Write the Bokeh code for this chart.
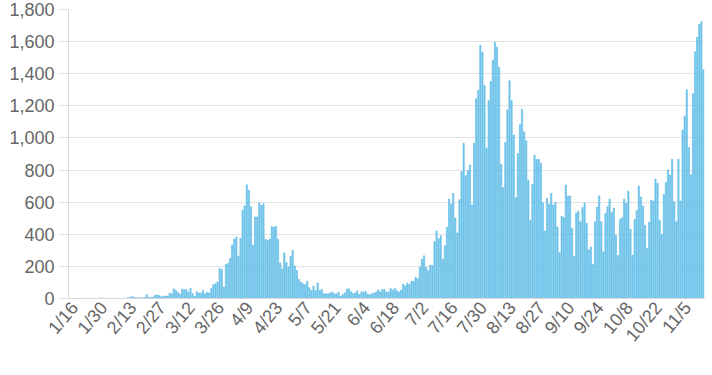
import math
import pandas as pd
from bokeh.plotting import figure
from bokeh.models import Range1d, FixedTicker, NumeralTickFormatter, ColumnDataSource
from bokeh.embed import file_html
from bokeh.resources import INLINE

# Daily values, 1/16 .. 11/15
jan = [1, 0, 0, 0, 0, 0, 0, 0, 1, 1, 1, 0, 3, 1, 2, 3]
feb = [2, 1, 0, 0, 3, 2, 1, 0, 0, 0, 3, 0, 4, 8, 12, 7, 6, 4, 5, 4, 6, 25, 8, 7, 9,
       20, 22, 18, 10]
mar = [15, 14, 16, 33, 30, 60, 50, 38, 27, 58, 55, 56, 40, 62, 30, 12, 42, 35, 33, 50,
       29, 37, 35, 62, 87, 92, 102, 187, 181, 71, 212]
apr = [219, 250, 333, 369, 383, 265, 375, 550, 577, 708, 675, 571, 333, 508, 508, 596,
       579, 590, 369, 362, 369, 448, 442, 450, 369, 221, 185, 283, 225, 196]
may = [262, 300, 202, 175, 119, 102, 92, 87, 108, 67, 50, 77, 50, 97, 51, 56, 29, 29,
       29, 35, 40, 29, 29, 40, 15, 25, 35, 58, 60, 42, 31]
jun = [35, 48, 25, 42, 40, 44, 27, 23, 29, 33, 40, 54, 42, 56, 56, 40, 40, 63, 52, 62,
       48, 40, 52, 90, 79, 96, 87, 108, 108, 133]
jul = [123, 194, 245, 266, 194, 173, 208, 204, 354, 420, 372, 391, 245, 329, 443, 620,
       589, 655, 501, 408, 616, 790, 967, 765, 797, 832, 582, 967, 1244, 1296, 1577]
aug = [1535, 1327, 937, 1232, 1351, 1485, 1595, 1565, 1440, 836, 691, 971, 1175, 1356,
       1231, 1019, 628, 903, 1082, 1179, 1038, 982, 738, 487, 711, 892, 865, 867, 843,
       597, 420]
sep = [624, 587, 655, 582, 597, 445, 285, 512, 505, 707, 639, 639, 437, 262, 532, 543,
       478, 566, 595, 469, 303, 320, 212, 478, 570, 639, 478, 291, 530, 572]
oct_ = [618, 535, 564, 395, 268, 493, 503, 618, 593, 668, 431, 270, 493, 548, 701, 632,
        576, 456, 312, 476, 612, 607, 743, 716, 487, 399, 649, 722, 801, 768, 867]
nov = [603, 478, 867, 607, 1050, 1136, 1300, 940, 770, 1277, 1537, 1627, 1706, 1724, 1425]

cases = jan + feb + mar + apr + may + jun + jul + aug + sep + oct_ + nov
dates = [f"{d.month}/{d.day}" for d in pd.date_range("2020-01-16", periods=len(cases))]

tick_labels = ["1/16", "1/30", "2/13", "2/27", "3/12", "3/26", "4/9", "4/23", "5/7",
               "5/21", "6/4", "6/18", "7/2", "7/16", "7/30", "8/13", "8/27", "9/10",
               "9/24", "10/8", "10/22", "11/5"]
y_ticks = [0, 200, 400, 600, 800, 1000, 1200, 1400, 1600, 1800]

idx = list(range(len(cases)))
src = ColumnDataSource(dict(x=idx, top=cases, date=dates))
# rotated labels sit slightly right of their bar, as in the reference
label_shift = 2.4
tick_pos = [dates.index(t) + label_shift for t in tick_labels]

p = figure(width=712, height=375, output_backend="svg", toolbar_location=None,
           x_range=Range1d(-0.5, len(cases) - 0.5), y_range=Range1d(0, 1800),
           min_border_left=68, min_border_right=8, min_border_top=9,
           min_border_bottom=77)
p.outline_line_color = None
p.background_fill_color = "white"
p.border_fill_color = "white"

p.vbar(x="x", top="top", source=src, width=0.62, fill_color="#7fcdee",
       line_color="#44aee0", line_width=0.5)

font = "Liberation Sans"
grey = "#666666"

p.xgrid.grid_line_color = None
p.ygrid.grid_line_color = "#e3e3e3"
p.ygrid.grid_line_width = 1
p.ygrid.ticker = FixedTicker(ticks=y_ticks)

ya = p.yaxis[0]
ya.ticker = FixedTicker(ticks=y_ticks)
ya.formatter = NumeralTickFormatter(format="0,0")
ya.axis_line_color = "#d9d9d9"
ya.major_tick_line_color = "#e3e3e3"
ya.major_tick_out = 10
ya.major_tick_in = 0
ya.minor_tick_line_color = None
ya.major_label_text_font = font
ya.major_label_text_font_size = "18px"
ya.major_label_text_color = grey
ya.major_label_standoff = 4

xa = p.xaxis[0]
xa.ticker = FixedTicker(ticks=tick_pos)
xa.major_label_overrides = {pos: lab for pos, lab in zip(tick_pos, tick_labels)}
xa.major_label_orientation = math.radians(50)
xa.axis_line_color = "#d9d9d9"
xa.major_tick_line_color = None
xa.major_tick_out = 0
xa.major_tick_in = 0
xa.minor_tick_line_color = None
xa.major_label_text_font = font
xa.major_label_text_font_size = "18px"
xa.major_label_text_color = grey
xa.major_label_standoff = 6

open("out.html", "w").write(file_html(p, INLINE))
